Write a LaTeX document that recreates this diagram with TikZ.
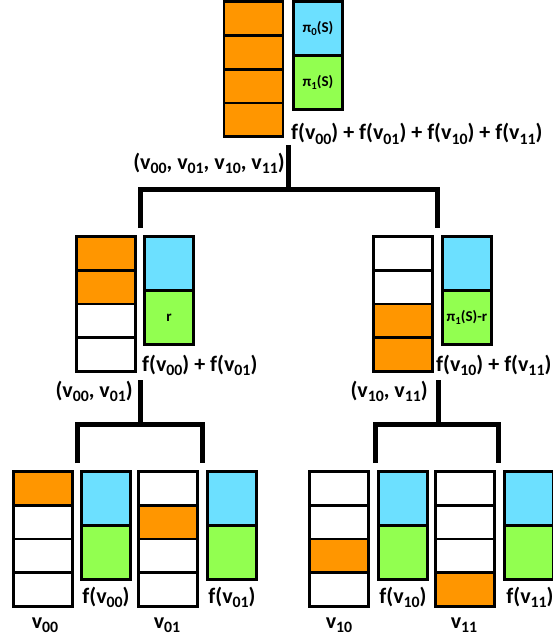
\documentclass[tikz,border=0pt]{standalone}
\usepackage{fontspec}
\usepackage{graphicx}
\setmainfont{Carlito}[BoldFont={Carlito Bold}]
\newcommand\sbx[1]{\raisebox{-0.2em}{\scalebox{0.72}{#1}}}
\definecolor{cOr}{RGB}{255,150,0}
\definecolor{cCy}{RGB}{108,224,255}
\definecolor{cGr}{RGB}{146,255,80}
\newcommand\vcol[7]{%
  \node[cell,fill=#4] (#1-1) at (#2,#3) {};
  \node[cell,fill=#5,anchor=north] (#1-2) at (#1-1.south) {};
  \node[cell,fill=#6,anchor=north] (#1-3) at (#1-2.south) {};
  \node[cell,fill=#7,anchor=north] (#1-4) at (#1-3.south) {};}
\newcommand\pbox[5]{%
  \node[half,fill=cCy] (#1-c) at (#2,#3) {#4};
  \node[half,fill=cGr,anchor=north] (#1-g) at (#1-c.south) {#5};}
\begin{document}
\begin{tikzpicture}[x=1pt,y=-1pt,
  cell/.style={draw,line width=2.6pt,minimum width=59pt,minimum height=33.75pt,inner sep=0pt,outer sep=0pt,anchor=north west},
  half/.style={draw,line width=2.6pt,minimum width=49pt,minimum height=54pt,inner sep=0pt,outer sep=0pt,anchor=north west,font=\bfseries\fontsize{15}{15}\selectfont},
  lbl/.style={inner sep=0pt,font=\bfseries\fontsize{22}{22}\selectfont},
  tree/.style={line width=5pt,line cap=butt,line join=miter}]
\useasboundingbox (0,0) rectangle (552,639);
% top level
\vcol{t}{224}{1.75}{cOr}{cOr}{cOr}{cOr}
\pbox{tp}{293.5}{1.75}{π\sbx{0}(S)}{π\sbx{1}(S)}
\node[lbl,anchor=base west] (tsum) at (291,140) {f(v\sbx{00}) + f(v\sbx{01}) + f(v\sbx{10}) + f(v\sbx{11})};
\node[lbl,anchor=base east] (tlab) at (285,169) {(v\sbx{00}, v\sbx{01}, v\sbx{10}, v\sbx{11})};
% middle left
\vcol{ml}{76.5}{236.5}{cOr}{cOr}{white}{white}
\pbox{mlp}{144.5}{236.5}{}{r}
\node[lbl,anchor=base west] (mlsum) at (142,371) {f(v\sbx{00}) + f(v\sbx{01})};
\node[lbl,anchor=base east] (mllab) at (133,397) {(v\sbx{00}, v\sbx{01})};
% middle right
\vcol{mr}{373.5}{236.5}{white}{white}{cOr}{cOr}
\pbox{mrp}{442.5}{236.5}{}{π\sbx{1}(S)-r}
\node[lbl,anchor=base west] (mrsum) at (436,371) {f(v\sbx{10}) + f(v\sbx{11})};
\node[lbl,anchor=base east] (mrlab) at (428,397) {(v\sbx{10}, v\sbx{11})};
% bottom
\vcol{a}{13.5}{471.5}{cOr}{white}{white}{white}
\pbox{ap}{81.5}{471.5}{}{}
\vcol{b}{138.5}{471.5}{white}{cOr}{white}{white}
\pbox{bp}{207.5}{471.5}{}{}
\vcol{c}{309.5}{471.5}{white}{white}{cOr}{white}
\pbox{cp}{378.5}{471.5}{}{}
\vcol{d}{435.5}{471.5}{white}{white}{white}{cOr}
\pbox{dp}{504.5}{471.5}{}{}
\node[lbl,anchor=base] (af) at (106,603) {f(v\sbx{00})};
\node[lbl,anchor=base] (bf) at (232,603) {f(v\sbx{01})};
\node[lbl,anchor=base] (cf) at (403,603) {f(v\sbx{10})};
\node[lbl,anchor=base] (df) at (530,603) {f(v\sbx{11})};
\node[lbl,anchor=base] (av) at (45,628) {v\sbx{00}};
\node[lbl,anchor=base] (bv) at (167,628) {v\sbx{01}};
\node[lbl,anchor=base] (cv) at (339,628) {v\sbx{10}};
\node[lbl,anchor=base] (dv) at (464,628) {v\sbx{11}};
% tree connectors
\coordinate (r0) at (288,145);
\coordinate (r1) at (140.5,228);
\coordinate (r2) at (437.5,228);
\coordinate (rj) at (288,189.5);
\draw[tree] (r0) -- (rj);
\draw[tree] (r1) |- (rj) -| (r2);
\coordinate (l0) at (140,380);
\coordinate (lj) at (140,424.5);
\coordinate (l1) at (77.5,463);
\coordinate (l2) at (202.5,463);
\draw[tree] (l0) -- (lj);
\draw[tree] (l1) |- (lj) -| (l2);
\coordinate (m0) at (438,380);
\coordinate (mj) at (438,424.5);
\coordinate (m1) at (375.5,463);
\coordinate (m2) at (498.5,463);
\draw[tree] (m0) -- (mj);
\draw[tree] (m1) |- (mj) -| (m2);
\end{tikzpicture}
\end{document}
